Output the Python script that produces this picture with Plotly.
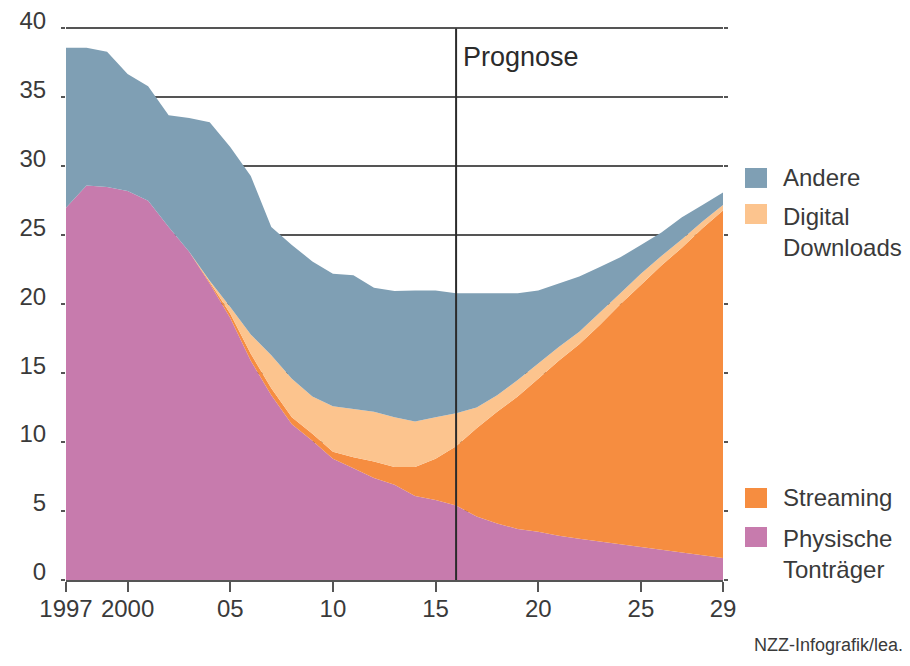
import plotly.graph_objects as go

# ---- data (billions) ----
years = list(range(1997, 2030))
physische = [27.0, 28.6, 28.5, 28.2, 27.5, 25.6, 23.8, 21.5, 19.0, 15.9, 13.4,
             11.3, 10.1, 8.8, 8.1, 7.4, 6.9, 6.1, 5.8, 5.4, 4.6, 4.1, 3.7, 3.5,
             3.2, 3.0, 2.8, 2.6, 2.4, 2.2, 2.0, 1.8, 1.6]
streaming = [0, 0, 0, 0, 0, 0, 0, 0.1, 0.3, 0.5, 0.5, 0.5, 0.5, 0.5, 0.8, 1.2,
             1.3, 2.1, 3.0, 4.3, 6.4, 8.1, 9.6, 11.1, 12.7, 14.1, 15.7, 17.4,
             19.0, 20.6, 22.1, 23.7, 25.2]
digital = [0, 0, 0, 0, 0, 0, 0, 0.1, 0.5, 1.4, 2.4, 2.8, 2.7, 3.3, 3.5, 3.6,
           3.6, 3.3, 3.0, 2.4, 1.5, 1.2, 1.2, 1.1, 1.0, 0.9, 0.9, 0.8, 0.8,
           0.7, 0.6, 0.5, 0.4]
andere = [11.6, 10.0, 9.8, 8.5, 8.3, 8.1, 9.7, 11.5, 11.6, 11.5, 9.3, 9.7,
          9.8, 9.6, 9.7, 9.0, 9.15, 9.5, 9.2, 8.7, 8.3, 7.4, 6.3, 5.3, 4.6,
          4.0, 3.3, 2.6, 2.1, 1.7, 1.6, 1.2, 0.9]

series_names = ["Physische<br>Tonträger", "Streaming", "Digital<br>Downloads", "Andere"]
series_values = [physische, streaming, digital, andere]
series_colors = ["#c77bad", "#f68d40", "#fcc48e", "#7f9fb4"]

x_tickvals = [1997, 2000, 2005, 2010, 2015, 2020, 2025, 2029]
x_ticktext = ["1997", "2000", "05", "10", "15", "20", "25", "29"]
y_tickvals = [0, 5, 10, 15, 20, 25, 30, 35, 40]
prognose_year = 2016
prognose_label = "Prognose"
credit = "NZZ-Infografik/lea."

FONT = "Liberation Sans, Arial, sans-serif"
TXT = "#3a3a3a"

fig = go.Figure()
for name, vals, col in zip(series_names, series_values, series_colors):
    fig.add_trace(go.Scatter(
        x=years, y=vals, name=name, stackgroup="one", mode="none",
        fillcolor=col, line=dict(width=0), showlegend=False,
        hovertemplate="%{x}: %{y}<extra></extra>"))

fig.update_layout(
    width=902, height=658,
    margin=dict(l=58, r=187, t=19, b=86, autoexpand=False),
    paper_bgcolor="white", plot_bgcolor="white",
    font=dict(family=FONT, size=24, color=TXT),
    xaxis=dict(range=[1997, 2029], tickvals=x_tickvals, ticktext=x_ticktext,
               showgrid=False, zeroline=False, showline=True, linecolor="#555",
               linewidth=2, ticks="outside", ticklen=10, tickwidth=2,
               tickcolor="#555", tickfont=dict(size=24, color=TXT),
               ticklabelstandoff=-4, automargin=False),
    yaxis=dict(range=[0, 40.1], tickvals=y_tickvals, showgrid=True,
               gridcolor="#555", gridwidth=1.5, zeroline=False,
               showline=False, mirror="ticks",
               ticks="outside", ticklen=4, tickwidth=1.5, tickcolor="#555",
               tickfont=dict(size=24, color=TXT), ticklabelshift=-8,
               ticklabelstandoff=10, ticklabeloverflow="allow",
               automargin=False),
)

# forecast divider
fig.add_shape(type="line", xref="x", yref="y", x0=prognose_year, x1=prognose_year,
              y0=0, y1=40, line=dict(color="#2b2b2b", width=2), layer="above")
fig.add_annotation(x=prognose_year, xref="x", y=0.9458, yref="paper",
                   text=prognose_label, showarrow=False, xanchor="left",
                   yanchor="middle", xshift=5, font=dict(size=27, color="#2b2b2b"))

# custom legend
legend_items = [
    ("Andere", 0.727, 0.727, series_colors[3]),
    ("Digital<br>Downloads", 0.6618, 0.6293, series_colors[2]),
    ("Streaming", 0.1483, 0.1483, series_colors[1]),
    ("Physische<br>Tonträger", 0.0778, 0.047, series_colors[0]),
]
for text, ysq, ytxt, col in legend_items:
    fig.add_shape(type="rect", xref="paper", yref="paper",
                  xsizemode="pixel", ysizemode="pixel", xanchor=1, yanchor=ysq,
                  x0=22, x1=44, y0=-10, y1=10, fillcolor=col, line=dict(width=0))
    fig.add_annotation(x=1, xref="paper", y=ytxt, yref="paper", xshift=58,
                       text=text, showarrow=False, xanchor="left", yanchor="middle",
                       align="left", font=dict(size=24, color=TXT))

fig.add_annotation(x=1.277, xref="paper", y=-0.1175, yref="paper", text=credit,
                   showarrow=False, xanchor="right", yanchor="middle",
                   font=dict(size=18, color=TXT))

fig.write_html("out.html")
